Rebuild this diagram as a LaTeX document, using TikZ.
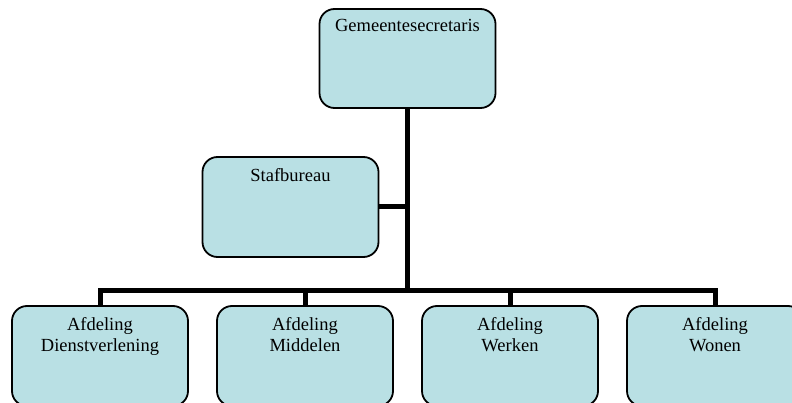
\documentclass[tikz,border=0pt]{standalone}
\usepackage{fontspec}
\setmainfont{Liberation Serif}
\definecolor{boxfill}{RGB}{185,224,228}
\tikzset{
  orgbox/.style={draw=black, line width=1.8pt, fill=boxfill, rounded corners=15pt,
    minimum width=176pt, minimum height=100pt, inner sep=0pt, outer sep=0pt},
  orgtext/.style={anchor=base, align=center, inner sep=0pt,
    font=\fontsize{18.5}{21.7}\selectfont},
  conn/.style={line width=5pt, line join=miter, draw=black}
}
\begin{document}
\begin{tikzpicture}[x=1pt,y=-1pt]
\useasboundingbox (0,0) rectangle (792,403);
% boxes
\node[orgbox, minimum height=99pt] (g) at (407.5,58.5) {};
\node[orgbox] (s) at (290.5,207) {};
\node[orgbox] (d1) at (100,356) {};
\node[orgbox] (d2) at (305,356) {};
\node[orgbox] (d3) at (510,356) {};
\node[orgbox] (d4) at (715,356) {};
% connectors
\coordinate (hub) at (407,290);
\draw[conn] (g.south -| hub) -- (hub);
\draw[conn] (s.east) -- (s.east -| hub);
\draw[conn] (d1.north) -- (d1.north |- hub) -- (d4.north |- hub) -- (d4.north);
\draw[conn] (d2.north) -- (d2.north |- hub);
\draw[conn] (d3.north) -- (d3.north |- hub);
% texts
\node[orgtext] (gt) at ([yshift=-23pt]g.north) {Gemeentesecretaris};
\node[orgtext] (st) at ([yshift=-25pt]s.north) {Stafbureau};
\node[orgtext] (d1t) at ([yshift=-45.7pt]d1.north) {Afdeling\\Dienstverlening};
\node[orgtext] (d2t) at ([yshift=-45.7pt]d2.north) {Afdeling\\Middelen};
\node[orgtext] (d3t) at ([yshift=-45.7pt]d3.north) {Afdeling\\Werken};
\node[orgtext] (d4t) at ([yshift=-45.7pt]d4.north) {Afdeling\\Wonen};
\end{tikzpicture}
\end{document}
